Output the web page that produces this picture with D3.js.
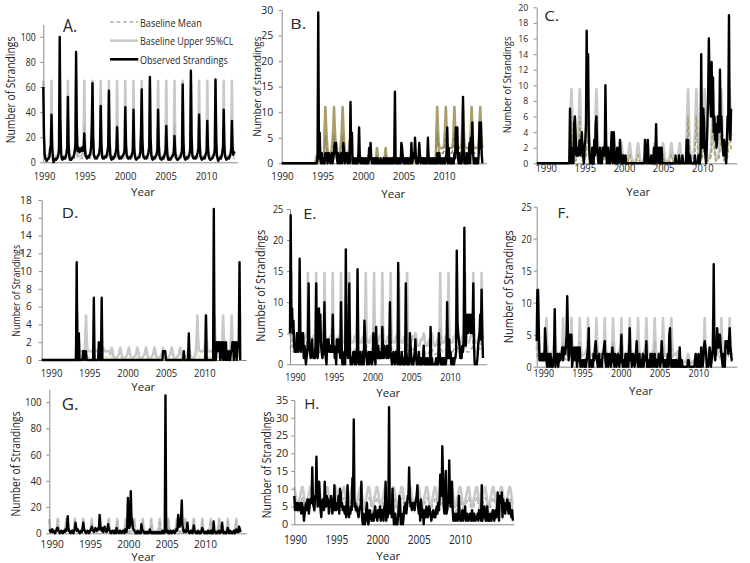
<!DOCTYPE html>
<html><head><meta charset="utf-8">
<script src="https://cdn.jsdelivr.net/npm/d3@7"></script>
<style>body{margin:0;background:#fff}svg{display:block}</style>
</head><body><svg id="c" width="750" height="563"></svg>
<script>
// ================= DATA =================
const tickYears = [1990, 1995, 2000, 2005, 2010];
const legendNames = ["Baseline Mean", "Baseline Upper 95%CL", "Observed Strandings"];

// ---- Panel A (monthly observed, from Jan 1990) ----
const obsA = [
60,22,6,3,2,1,2,3,3,5,11,13, 38,12,4,0,1,2,3,2,3,4,6,10, 100,35,8,3,2,3,4,3,3,5,7,12,
52,15,5,2,3,2,3,4,4,6,9,14, 88,30,9,12,10,8,11,9,10,12,9,11, 23,10,5,4,3,4,5,4,6,8,12,30,
63,20,6,4,3,4,3,4,5,6,8,12, 45,15,5,3,4,3,4,5,4,6,9,13, 57,18,6,3,2,3,4,3,4,6,8,11,
28,10,5,3,3,4,3,4,5,6,7,10, 44,14,6,4,3,3,4,3,4,5,7,9, 42,12,5,3,2,3,3,4,4,5,8,25,
58,18,6,4,3,3,4,3,4,6,8,12, 68,20,6,3,2,3,4,3,4,5,7,10, 42,13,5,3,3,2,3,4,3,5,7,10,
29,10,4,2,3,3,2,3,4,5,6,8, 21,8,4,3,2,2,3,3,4,5,7,9, 62,18,5,3,2,3,4,3,4,5,7,10,
73,22,6,4,3,3,4,3,4,6,8,11, 38,12,5,3,2,3,3,4,3,5,7,9, 33,11,5,3,2,2,3,3,4,5,7,10,
66,20,5,3,1,2,3,4,3,5,8,12, 42,13,5,3,2,3,3,4,3,5,7,10, 33,12,6,8,7];
const upperA_H = [65,18,7,5,5,5,5,5,5,6,8,12];
const meanA_H  = [30,9,4,3,3,3,3,3,3,3,4,6];
const regimeA  = "HHHHHHHHHHHHHHHHHHHHHHHH";

// ---- Panel B ----
const obsB = [
0,0,0,0,0,0,0,0,0,0,0,0, 0,0,0,0,0,0,0,0,0,0,0,0, 0,0,0,0,0,0,0,0,0,0,0,0, 0,0,0,0,0,0,0,0,0,0,0,0,
0,0,1,29.5,1,6,1,0,2,0,1,0, 0,2,1,2,0,1,2,1,0,1,2,0, 1,2,4,2,4,1,0,2,1,0,1,2,
0,1,4,2,0,1,2,1,0,2,1,0, 12,2,6,0,1,0,1,0,0,1,0,2, 7,1,0,1,1,0,1,0,0,1,0,0,
1,0,3,1,4,1,0,0,1,0,0,1, 0,0,1,0,0,0,1,0,0,0,1,0, 0,1,0,0,1,0,0,1,0,0,1,0,
0,1,14,0,0,1,0,0,1,0,0,4, 3,1,0,0,1,0,0,1,0,0,1,0, 0,4,0,1,2,1,5,2,0,1,0,1,
4,1,0,1,1,0,1,0,1,0,1,0, 5,1,0,0,1,0,0,1,0,0,1,0, 0,2,0,1,2,0,1,0,0,1,0,1,
0,1,2,7,0,3,0,1,0,1,0,0, 0,2,1,7,2,7,1,0,2,0,1,0, 2,13,2,0,1,0,2,0,0,1,4,0,
5,2,8,2,0,0,1,0,0,1,0,2, 8,3,8,2,0];
const upperB_Z = [0,0,0,0,0,0,0,0,0,0,0,0];
const upperB_L = [1,1.5,1,0.6,0.5,0.5,0.5,0.5,0.5,0.5,0.6,0.8];
const upperB_H = [7,11,7,4.5,2.5,1.5,1.2,1.2,1.5,2,3,4.5];
const upperB_S = [1.5,3,1.5,0.8,0.5,0.5,0.5,0.5,0.5,0.5,0.6,0.8];
const upperB_G = [7,11,7,4,3,3,3,3,3,3,3.2,4];
const meanB_Z  = [0,0,0,0,0,0,0,0,0,0,0,0];
const meanB_L  = [0.5,0.7,0.5,0.3,0.3,0.3,0.3,0.3,0.3,0.3,0.3,0.4];
const meanB_H  = [3.5,5.5,3.5,2,1.2,0.8,0.6,0.6,0.8,1,1.5,2.2];
const meanB_S  = [0.7,1.5,0.7,0.4,0.3,0.3,0.3,0.3,0.3,0.3,0.3,0.4];
const meanB_G  = [4,6,4,2.5,2,2,2,2,2,2,2.2,2.6];
const regimeB  = "ZZZZLHHHLLLSSLLLLLGGGGGG";

// ---- Panel C ----
const obsC = [
0,0,0,0,0,0,0,0,0,0,0,0, 0,0,0,0,0,0,0,0,0,0,0,0, 0,0,0,0,0,0,0,0,0,0,0,0, 0,0,0,0,0,0,0,0,0,0,0,0,
7,2,0,1,2,0,5,6,4,1,2,1, 1,2,3,1,2,4,2,1,0,2,3,5, 17,8,14,4,1,0,1,0,2,1,0,3,
1,5,6,2,1,0,1,2,0,1,0,2, 1,2,1,10,3,0,1,2,0,1,0,2, 4,1,0,4,2,0,1,0,2,1,0,1,
3,1,0,1,0,1,0,0,1,0,0,0, 0,0,0,0,0,0,0,0,0,0,0,0, 0,0,0,0,0,0,0,0,0,0,0,0,
3,1,0,0,3,1,0,0,0,1,0,0, 0,2,0,1,5,1,0,1,2,0,0,2, 2,0,0,0,0,0,0,0,0,0,0,0,
0,0,0,0,0,0,0,0,1,0,0,0, 0,1,0,0,0,0,1,0,0,0,0,0, 3,0,3,0,0,1,0,0,0,0,0,0,
1,0,0,0,0,1,0,0,1,14,3,2, 7,5,2,1,0,2,5,9,16,10,8,6, 13,6,11,4,6,3,5,2,3,6,5,4,
12,5,6,3,2,1,3,2,1,0,3,6, 6,19,4,3,7];
const upperC_Z = [0,0,0,0,0,0,0,0,0,0,0,0];
const upperC_H = [3.5,7,9.5,7,3.5,1.5,0.8,0.6,0.6,0.8,1.2,2];
const upperC_S = [1,2,2.6,2,1,0.5,0.3,0.2,0.2,0.3,0.4,0.6];
const meanC_Z  = [0,0,0,0,0,0,0,0,0,0,0,0];
const meanC_H  = [1.5,3.5,6,3.5,1.5,0.6,0.3,0.3,0.3,0.4,0.6,0.9];
const meanC_S  = [0.3,0.7,1.1,0.7,0.3,0.1,0.1,0.1,0.1,0.1,0.1,0.2];
const regimeC  = "ZZZZHHHHSSSSSSSSSSHHHHHH";

// ---- Panel D ----
const obsD = [
0,0,0,0,0,0,0,0,0,0,0,0, 0,0,0,0,0,0,0,0,0,0,0,0, 0,0,0,0,0,0,0,0,0,0,0,0, 0,0,0,0,0,0,0,0,0,0,0,0,
0,11,0,0,3,0,0,0,0,0,1,1, 0,1,1,0,0,0,0,0,0,0,0,0, 0,7,0,0,0,0,0,0,2,0,0,0,
7,0,0,0,0,0,0,0,0,0,0,0, 0,0,0,0,0,0,0,0,0,0,0,0, 0,0,0,0,0,0,0,0,0,0,0,0,
0,0,0,0,0,0,0,0,0,0,0,0, 0,0,0,0,0,0,0,0,0,0,0,0, 0,0,0,0,0,0,0,0,0,0,0,0,
0,0,0,0,0,0,0,0,0,0,0,0, 0,0,1,1,1,1,0,0,0,0,0,0, 0,0,0,0,0,0,0,0,0,0,0,0,
0,0,0,0,0,0,0,1,0,0,0,0, 0,0,3,0,0,0,0,0,0,0,0,0, 0,0,0,0,0,0,0,0,0,0,0,0,
0,0,5,0,0,0,0,0,0,0,0,0, 0,17,0,2,0,2,1,2,1,2,0,1, 2,1,0,2,1,0,2,0,1,0,0,1,
0,1,1,2,2,0,1,2,2,0,1,2, 2,11,0];
const upperD_Z = [0,0,0,0,0,0,0,0,0,0,0,0];
const upperD_H = [1,2.5,5,2.5,1.2,1,1,1,1,1,1,1];
const upperD_M = [1,1.2,1.4,1.2,1,1,1,1,1,1,1,1];
const upperD_S = [0.6,1.1,1.4,1.1,0.6,0.3,0.2,0.2,0.2,0.3,0.4,0.5];
const meanD_Z  = [0,0,0,0,0,0,0,0,0,0,0,0];
const meanD_H  = [0.4,0.6,1,0.6,0.4,0.3,0.3,0.3,0.3,0.3,0.3,0.3];
const meanD_M  = [0.3,0.35,0.4,0.35,0.3,0.3,0.3,0.3,0.3,0.3,0.3,0.3];
const meanD_S  = [0.1,0.2,0.3,0.2,0.1,0.05,0.05,0.05,0.05,0.05,0.05,0.1];
const regimeD  = "ZZZZHHMMSSSSSSSSSSHHHHHH";

// ---- Panel E ----
const obsE = [
5,24,6,9,5,7,3,2,3,2,5,3, 2,3,17,5,2,5,3,5,1,3,2,0, 1,2,4,13,3,2,1,2,4,2,1,2,
1,3,13,2,1,2,9,5,8,3,2,1, 2,4,10,2,1,0,4,3,4,2,3,2, 3,2,8,2,3,1,2,0,4,2,3,4,
2,1,10,3,0,1,0,2,0,18.5,5,2, 1,4,13,2,0,1,0,1,2,1,0,2, 0,1,15.3,2,0,1,2,0,1,0,2,0,
7,4,2,1,0,1,2,0,1,2,1,0, 1,5,2,1,0,6,2,1,3,1,2,1, 2,1,6,2,1,3,2,2,1,3,2,1,
2,10,2,1,0,1,2,1,0,1,2,1, 0,16.3,1,0,1,0,2,1,0,1,0,0, 13,2,0,1,0,0,5,3,1,0,1,0,
1,2,4,1,0,1,0,2,0,1,0,1, 0,1,3,0,1,0,0,1,0,0,1,0, 6,0,1,0,0,0,0,0,1,0,0,0,
5,2,1,0,0,1,0,0,1,0,0,1, 10,2,1,4,1,2,0,1,0,1,0,1, 1,2,18.3,7,5,4,3,1,2,1,3,2,
4,22,5,3,7,8,5,6,8,7,5,8, 6,5,13,3,0,0,0,0,1,3,4,5, 8,4,12,5,1];
const upperE_H = [4.5,6,14.7,6,4,3.5,3.5,3.5,3.5,4,4.5,4.5];
const upperE_L = [4,4.5,5,4.5,3.5,3,3,3,3,3.5,4,4];
const meanE_H  = [2.5,3,6,3,2.2,2,2,2,2,2.2,2.4,2.5];
const meanE_L  = [2,2.2,2.5,2.2,1.8,1.6,1.6,1.6,1.6,1.8,2,2];
const regimeE  = "HHHHHHHHHHHHHHHLLLHHHHHH";

// ---- Panel F ----
const obsF = [
4,12,12,6,1,1,1,2,1,2,1,1, 6,4,1,0,2,1,0,2,2,0,1,0, 1,2,9,0,2,1,2,0,1,2,1,2,
2,3,1,2,3,2,3,5,11,5,1,2, 5,3,5,0,1,2,3,1,2,3,0,1, 3,1,3,0,1,1,0,1,1,0,1,0,
1,2,3,6,0,1,1,0,1,0,2,1, 3,4,2,1,0,1,2,0,1,1,0,2, 2,3,4,1,0,1,2,0,1,2,1,0,
1,3,2,1,0,2,1,0,1,2,1,0, 1,2,5,1,0,1,0,1,2,0,1,2, 0,2,6,1,2,0,1,2,1,0,1,2,
4,1,0,1,2,0,1,0,1,2,0,1, 1,2,4,0,1,0,1,0,2,1,0,2, 1,0,2,1,0,1,0,1,2,1,0,1,
4,2,1,0,1,0,1,0,1,2,0,5, 6,1,0,1,0,1,0,1,0,1,0,0, 1,0,3,0,0,1,0,0,0,0,0,0,
0,0,1,1,0,0,0,0,0,0,0,0, 1,2,0,1,0,2,0,1,0,3,1,0, 1,3,4,3,2,0,1,0,1,3,2,0,
1,2,3,16,3,1,2,3,6,4,3,5, 5,3,2,1,0,2,1,0,4,3,4,4, 2,4,6,3,2,1,1];
const upperF_H = [2.5,4,7.6,4,2.5,2,1.8,1.8,1.8,2,2.2,2.4];
const upperF_L = [1,1.5,2,1.5,1,0.8,0.7,0.7,0.7,0.8,0.9,1];
const meanF_H  = [1.5,2.2,3.8,2.2,1.5,1.2,1.1,1.1,1.1,1.2,1.3,1.4];
const meanF_L  = [0.6,0.8,1,0.8,0.6,0.5,0.5,0.5,0.5,0.5,0.6,0.6];
const regimeF  = "HHHHHHHHHHHHHHHHHLLLHHHH";

// ---- Panel G ----
const obsG = [
3,2,1,2,3,1,2,1,0,1,2,4, 4,2,1,0,1,2,1,0,1,2,1,3, 2,5,13,4,2,1,0,1,2,1,0,2,
3,8,4,2,3,2,1,0,1,2,1,3, 8,3,2,1,0,1,2,1,0,1,2,3, 5,3,2,1,2,4,3,2,3,4,3,14,
6,3,2,4,1,2,5,3,2,1,3,7, 4,2,1,0,1,2,1,0,2,1,0,4, 2,1,0,1,2,1,0,1,2,1,0,3,
2,1,5,27,10,4,6,32,12,10,4,3, 2,1,0,1,0,2,1,0,1,0,7,3, 2,1,0,1,0,1,0,1,0,1,3,1,
0,1,0,0,1,0,0,1,0,0,1,0, 1,0,1,0,2,1,0,1,105,4,1,2, 0,1,0,2,1,0,1,2,1,0,1,3,
2,4,14,6,5,8,12,25,6,3,1,2, 2,1,3,8,2,1,0,1,2,1,0,1, 6,2,1,0,1,0,2,1,0,1,0,2,
4,2,1,0,1,0,1,0,2,1,0,1, 2,0,1,0,9,2,1,0,1,0,1,2, 1,0,2,1,8,2,0,1,0,1,0,1,
4,1,0,2,1,0,1,0,1,2,0,1, 3,1,2,1,5,3,1];
const upperG_H = [11,4,2,1.5,1.5,1.5,1.5,1.5,1.5,2,3,5];
const meanG_H  = [10,3,1.5,1,1,1,1,1,1,1.5,2,4];
const regimeG  = "HHHHHHHHHHHHHHHHHHHHHHH";

// ---- Panel H ----
const obsH = [
8,4,6,5,4,6,5,4,5,6,3,6, 5,4,1,3,5,6,4,7,7,3,5,7, 6,7,16,6,5,4,8,7,19,8,5,6,
12,7,4,2,6,7,5,4,12,7,5,8, 6,7,3,6,5,8,7,3,5,4,11,4, 5,4,6,5,8,3,10,9,5,6,4,5,
4,3,5,2,6,11,5,2,4,3,5,4, 13,8,29.5,5,6,4,5,4,3,2,4,5, 5,12,2,0,3,2,0,1,4,6,2,0,
1,4,3,2,1,2,3,1,4,5,2,3, 1,4,3,2,5,1,3,4,2,1,5,4, 12,1,3,2,4,33,4,3,5,2,10,5,
0,1,3,0,1,0,2,5,8,6,0,3, 1,0,2,5,4,6,3,5,8,7,16,8, 5,6,4,5,6,5,4,6,7,8,11,5,
3,6,1,7,5,2,4,0,3,4,2,5, 4,2,3,5,4,3,1,2,3,4,2,3, 2,4,5,3,6,4,7,14,9,8,22,13,
5,3,8,15,3,4,6,7,18,7,5,6, 12,4,1,2,3,1,2,3,1,2,8,3, 1,1,2,4,1,3,2,5,1,2,3,1,
1,2,3,2,1,4,2,1,3,2,1,2, 2,3,1,4,2,3,1,11,1,3,2,5, 2,1,3,5,1,2,1,3,2,1,3,4,
3,1,2,4,2,3,9,3,1,8,6,7, 9,2,7,5,4,3,6,5,7,4,3,6, 4,3,2,4,1];
const upperH_H = [10.5,9.5,8,6.5,5.5,5,5.5,6.5,7.5,8.5,9.5,10.5];
const meanH_H  = [7.5,7,6,5,4,3.5,4,4.5,5.5,6,6.5,7];
const regimeH  = "HHHHHHHHHHHHHHHHHHHHHHHHHHH";

// ================= LAYOUT =================
const FONT = "'Open Sans','Liberation Sans',sans-serif";
const TXT = "#262626", AX = "#8a8a8a";
const GRAY = "#c9c9c9", GRAYM = "#b3b3b3";

const panels = [
 {obs:obsA, regime:regimeA, upper:{H:upperA_H}, mean:{H:meanA_H}, uc:GRAY, mc:GRAYM, letter:"A.", yTitle:"Number of Strandings",
  left:43.3, right:238, top:24.3, bottom:162.3, yMax:110, yTickMax:100, yStep:20, ppy:8.2,
  lx0:44, lx1:206, ly:176, xDig:5.4, xFs:11.6, yDig:5, yFs:10.2, yLabR:35.7,
  tX:10, tY:90, tLen:106.7, tFs:12, lX:70, lY:25, lFs:17.5, lLen:14, yrX:143, yrY:191, legend:true},
 {obs:obsB, regime:regimeB, upper:{Z:upperB_Z,L:upperB_L,H:upperB_H,S:upperB_S,G:upperB_G}, mean:{Z:meanB_Z,L:meanB_L,H:meanB_H,S:meanB_S,G:meanB_G}, uc:"#a89f6d", mc:"#8e8656", letter:"B.", yTitle:"Number of strandings",
  left:281.7, right:487.3, top:10, bottom:163.3, yMax:30, yTickMax:30, yStep:5, ppy:8.6,
  lx0:282, lx1:444, ly:175.7, xDig:5.6, xFs:11.6, yDig:6, yFs:10.2, yLabR:273.3,
  tX:256.7, tY:86.7, tLen:100, tFs:11, lX:298.3, lY:23.3, lFs:15, lLen:16, yrX:393.3, yrY:193.3},
 {obs:obsC, regime:regimeC, upper:{Z:upperC_Z,H:upperC_H,S:upperC_S}, mean:{Z:meanC_Z,H:meanC_H,S:meanC_S}, uc:GRAY, mc:"#a8a068", letter:"C.", yTitle:"Number of Strandings",
  left:536.7, right:737.3, top:7.3, bottom:163.3, yMax:20, yTickMax:20, yStep:2, ppy:8.33,
  lx0:545.7, lx1:702.3, ly:168, xDig:5.4, xFs:11.6, yDig:5, yFs:9.2, yLabR:528.3,
  tX:506.7, tY:85, tLen:96.7, tFs:11, lX:551.7, lY:15.3, lFs:15, lLen:15, yrX:638.3, yrY:191.7},
 {obs:obsD, regime:regimeD, upper:{Z:upperD_Z,H:upperD_H,M:upperD_M,S:upperD_S}, mean:{Z:meanD_Z,H:meanD_H,M:meanD_M,S:meanD_S}, uc:GRAY, mc:"#e4dca8", letter:"D.", yTitle:"Number of Strandings",
  left:41.7, right:246.7, top:200, bottom:360, yMax:18, yTickMax:18, yStep:2, ppy:8.57,
  lx0:51, lx1:204.3, ly:373.3, xDig:5.4, xFs:11.6, yDig:5.8, yFs:10.2, yLabR:31.7,
  tX:15, tY:290.8, tLen:92, tFs:11, lX:70, lY:212, lFs:15, lLen:16.7, yrX:143.3, yrY:386},
 {obs:obsE, regime:regimeE, upper:{H:upperE_H,L:upperE_L}, mean:{H:meanE_H,L:meanE_L}, uc:GRAY, mc:GRAYM, letter:"E.", yTitle:"Number of Strandings",
  left:290, right:487.3, top:209, bottom:364.3, yMax:25, yTickMax:25, yStep:5, ppy:8.27,
  lx0:295, lx1:450, ly:377, xDig:5.1, xFs:11.6, yDig:5.2, yFs:10.7, yLabR:283.3,
  tX:260, tY:285.8, tLen:111.7, tFs:12, lX:310, lY:213.3, lFs:15, lLen:13.3, yrX:388.3, yrY:392.5},
 {obs:obsF, regime:regimeF, upper:{H:upperF_H,L:upperF_L}, mean:{H:meanF_H,L:meanF_L}, uc:GRAY, mc:GRAYM, letter:"F.", yTitle:"Number of Strandings",
  left:536.7, right:737.3, top:206.7, bottom:366.7, yMax:25, yTickMax:25, yStep:5, ppy:8.33,
  lx0:543.3, lx1:698.3, ly:373.3, xDig:5.1, xFs:11.6, yDig:5.2, yFs:10.7, yLabR:531.7,
  tX:508.3, tY:286.7, tLen:113, tFs:12, lX:563.3, lY:212, lFs:15, lLen:11.7, yrX:641, yrY:390.5},
 {obs:obsG, regime:regimeG, upper:{H:upperG_H}, mean:{H:meanG_H}, uc:GRAY, mc:GRAYM, letter:"G.", yTitle:"Number of Strandings",
  left:49.3, right:246.7, top:389, bottom:533.3, yMax:110, yTickMax:100, yStep:20, ppy:8.5,
  lx0:51.7, lx1:205, ly:543.5, xDig:5.8, xFs:11.6, yDig:5.6, yFs:10.7, yLabR:41.7,
  tX:15, tY:464, tLen:105, tFs:12, lX:70, lY:403.7, lFs:15.5, lLen:16.7, yrX:143.3, yrY:556},
 {obs:obsH, regime:regimeH, upper:{H:upperH_H}, mean:{H:meanH_H}, uc:GRAY, mc:GRAYM, letter:"H.", yTitle:"Number of Strandings",
  left:294.3, right:514.3, top:400, bottom:524.3, yMax:35, yTickMax:35, yStep:5, ppy:8.3,
  lx0:295, lx1:460, ly:539.5, xDig:5.8, xFs:12, yDig:6.2, yFs:10.2, yLabR:288.3,
  tX:266.7, tY:465, tLen:106.7, tFs:12, lX:311.7, lY:403.3, lFs:15, lLen:15, yrX:388.3, yrY:555}
];

// ================= DRAW =================
const svg = d3.select("#c");
svg.append("rect").attr("width",750).attr("height",563).attr("fill","#fff");

function txt(g, s, x, y, fs, len, opts = {}) {
  const t = g.append("text").attr("x", x).attr("y", y).text(s)
    .attr("font-family", FONT).attr("font-size", fs).attr("fill", TXT)
    .attr("text-anchor", opts.anchor || "middle").attr("dominant-baseline", "central");
  if (len) t.attr("textLength", len).attr("lengthAdjust", "spacingAndGlyphs");
  if (opts.transform) t.attr("transform", opts.transform).attr("x", 0).attr("y", 0);
  return t;
}

panels.forEach(p => {
  const g = svg.append("g");
  const span = (p.right - p.left) / p.ppy;
  const x = d3.scaleLinear().domain([1990, 1990 + span]).range([p.left, p.right]);
  const y = d3.scaleLinear().domain([0, p.yMax]).range([p.bottom, p.top]);
  const xl = d3.scaleLinear().domain([tickYears[0], tickYears[tickYears.length-1]]).range([p.lx0, p.lx1]);
  const tOf = i => 1990 + i / 12;
  const up = p.obs.map((_, i) => p.upper[p.regime[Math.floor(i / 12)]][i % 12]);
  const mn = p.obs.map((_, i) => p.mean[p.regime[Math.floor(i / 12)]][i % 12]);
  const line = d3.line().x((d, i) => x(tOf(i))).y(d => y(d));

  // baseline series
  g.append("path").attr("d", line(up)).attr("fill","none").attr("stroke", p.uc)
    .attr("stroke-width", 2.6).attr("stroke-linejoin","round");
  g.append("path").attr("d", line(mn)).attr("fill","none").attr("stroke", p.mc)
    .attr("stroke-width", 1.6).attr("stroke-dasharray","4,2.5").attr("stroke-linejoin","round");

  // axes
  const yAxis = d3.axisLeft(y).tickValues(d3.range(0, p.yTickMax + 1e-9, p.yStep))
    .tickSize(3).tickSizeOuter(0).tickPadding(p.left - p.yLabR - 3);
  const ga = g.append("g").attr("transform", `translate(${p.left},0)`).call(yAxis);
  ga.select(".domain").attr("stroke", AX);
  ga.selectAll(".tick line").attr("stroke", AX);
  ga.selectAll(".tick text").attr("font-family", FONT).attr("font-size", p.yFs).attr("fill", TXT)
    .attr("textLength", d => String(d).length * p.yDig).attr("lengthAdjust","spacingAndGlyphs");

  g.append("line").attr("x1", p.left).attr("x2", p.right).attr("y1", p.bottom + 0.5).attr("y2", p.bottom + 0.5)
    .attr("stroke", AX).attr("stroke-width", 1);

  // observed
  g.append("path").attr("d", line(p.obs)).attr("fill","none").attr("stroke", "#000")
    .attr("stroke-width", 2.4).attr("stroke-linejoin","round");

  const xAxis = d3.axisBottom(xl).tickValues(tickYears).tickFormat(d3.format("d")).tickSize(0).tickPadding(0);
  const gx = g.append("g").attr("transform", `translate(0,${p.ly})`).call(xAxis);
  gx.select(".domain").remove();
  gx.selectAll(".tick text").attr("y", 0).attr("dy", "0.35em").attr("font-family", FONT)
    .attr("font-size", p.xFs).attr("fill", TXT)
    .attr("textLength", d => String(d).length * p.xDig).attr("lengthAdjust","spacingAndGlyphs");

  // titles
  txt(g, p.yTitle, 0, 0, p.tFs, p.tLen, {transform: `translate(${p.tX},${p.tY}) rotate(-90)`});
  txt(g, "Year", p.yrX, p.yrY, 11, 24);
  txt(g, p.letter, p.lX, p.lY, p.lFs, p.lLen);

  if (p.legend) {
    const rows = [
      {name: legendNames[0], color: GRAYM, w: 1.6, dash: "4,2.5", y: 22, len: 61.7},
      {name: legendNames[1], color: GRAY, w: 2.6, dash: null, y: 40.7, len: 93.3},
      {name: legendNames[2], color: "#000", w: 2.6, dash: null, y: 59.3, len: 87.7}
    ];
    rows.forEach(r => {
      const l = g.append("line").attr("x1", 110).attr("x2", 138.3).attr("y1", r.y).attr("y2", r.y)
        .attr("stroke", r.color).attr("stroke-width", r.w);
      if (r.dash) l.attr("stroke-dasharray", r.dash);
      txt(g, r.name, 140, r.y, 11, r.len, {anchor: "start"});
    });
  }
});
</script>
</body></html>
